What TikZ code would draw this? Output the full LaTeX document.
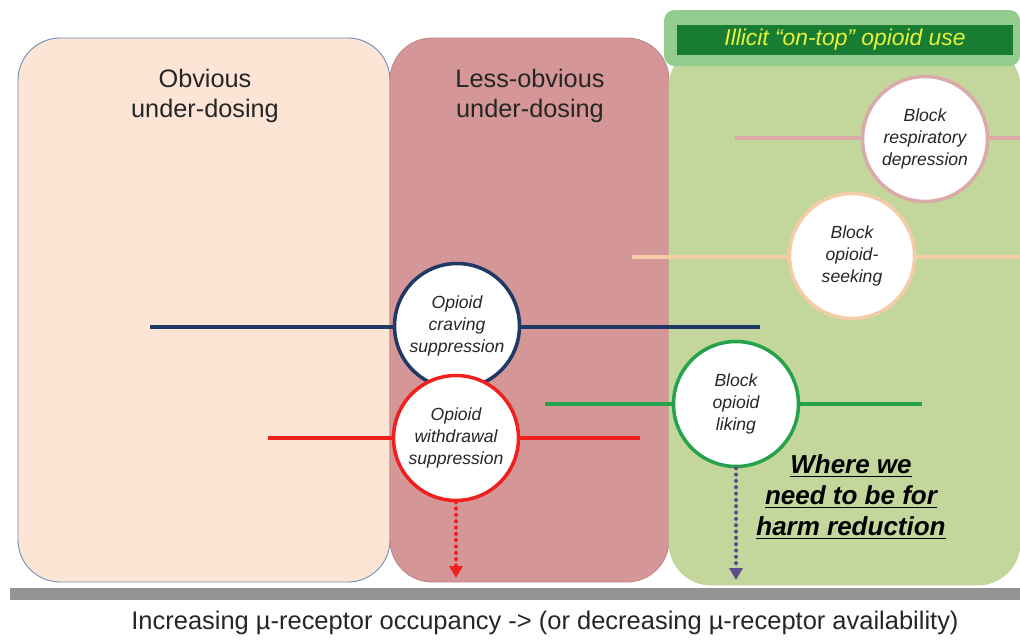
\documentclass[tikz,border=0pt]{standalone}
\usepackage{fontspec}
\setmainfont{Liberation Sans}
\usepackage{tikz}
\usetikzlibrary{arrows.meta, positioning, calc}
\definecolor{peachfill}{HTML}{FCE5D5}
\definecolor{rosefill}{HTML}{D49696}
\definecolor{leaffill}{HTML}{C3D69B}
\definecolor{glowgreen}{HTML}{94CC8E}
\definecolor{bargreen}{HTML}{187D33}
\definecolor{bartext}{HTML}{E8F23C}
\definecolor{navyring}{HTML}{203864}
\definecolor{redring}{HTML}{F0201E}
\definecolor{greenring}{HTML}{26A24C}
\definecolor{pinkring}{HTML}{D9AAA8}
\definecolor{apricotring}{HTML}{F5CCA8}
\definecolor{dusk}{HTML}{5E4B8B}
\definecolor{slateedge}{HTML}{6A8BB8}
\tikzstyle{zone} = [rounded corners=24pt, line width=0.5pt]
\tikzstyle{zonetitle} = [font=\fontsize{14.4}{17.5}\selectfont, align=center, text=black!85]
\tikzstyle{effect} = [
  circle, draw, fill=white, line width=2pt,
  minimum size=2.5cm, inner sep=0pt, align=center,
  font=\fontsize{10}{12.5}\selectfont\itshape, text=black!85
]
\tikzstyle{level} = [line width=1.8pt]
\tikzstyle{drop} = [-{Triangle[length=2.4mm, width=2.6mm]}, line width=2.3pt,
  line cap=round, dash pattern=on 0pt off 3.6pt]

\begin{document}
\begin{tikzpicture}[x=0.02cm, y=-0.02cm]
  \useasboundingbox (0,0) rectangle (1020,639);

  % three zones
  \draw[zone, fill=peachfill, draw=slateedge] (18,38) rectangle (390,582);
  \draw[zone, fill=rosefill, draw=rosefill!90!black] (390,38) rectangle (669,582);
  \draw[zone, fill=leaffill, draw=leaffill] (669,45) rectangle (1020,585);

  % header of the green zone
  \fill[glowgreen, rounded corners=6pt] (664,10) rectangle (1020,66);
  \node[fill=bargreen, minimum width=6.72cm, minimum height=0.6cm, inner sep=0pt,
        text=bartext, font=\fontsize{13}{15}\selectfont\itshape] (illicit) at (845,40)
        {Illicit “on-top” opioid use};

  \node[zonetitle] (obvious) at (205,96) {Obvious\\under-dosing};
  \node[zonetitle] (lessobvious) at (530,96) {Less-obvious\\under-dosing};

  % range lines
  \coordinate (resp-l) at (735,138);
  \coordinate (resp-r) at (1020,138);
  \coordinate (seek-l) at (632,257);
  \coordinate (seek-r) at (1020,257);
  \coordinate (crav-l) at (150,327);
  \coordinate (crav-r) at (760,327);
  \coordinate (like-l) at (545,404);
  \coordinate (like-r) at (922,404);
  \coordinate (with-l) at (268,438);
  \coordinate (with-r) at (640,438);
  \draw[level, draw=pinkring] (resp-l) -- (resp-r);
  \draw[level, draw=apricotring] (seek-l) -- (seek-r);
  \draw[level, draw=navyring] (crav-l) -- (crav-r);
  \draw[level, draw=greenring] (like-l) -- (like-r);
  \draw[level, draw=redring] (with-l) -- (with-r);

  % effect circles
  \node[effect, draw=pinkring] (resp) at (925,139) {Block\\respiratory\\depression};
  \node[effect, draw=apricotring] (seeking) at (852,256) {Block\\opioid-\\seeking};
  \node[effect, draw=navyring] (craving) at (457,326) {Opioid\\craving\\suppression};
  \node[effect, draw=greenring] (liking) at (736,404) {Block\\opioid\\liking};
  \node[effect, draw=redring] (withdrawal) at (456,438) {Opioid\\withdrawal\\suppression};

  \coordinate (redtip) at (456,578);
  \coordinate (dusktip) at (736,580);
  \draw[drop, draw=redring, fill=redring] (withdrawal.south) -- (redtip);
  \draw[drop, draw=dusk, fill=dusk] (liking.south) -- (dusktip);

  \node[font=\fontsize{14.8}{17.8}\selectfont\bfseries\itshape, align=center] (harm) at (851,497)
    {\underline{Where we}\\\underline{need to be for}\\\underline{harm reduction}};

  % axis
  \fill[black!42] (10,588) rectangle (1020,600);
  \node[font=\fontsize{14.5}{16}\selectfont, text=black!85] (axis) at (545,623)
    {Increasing µ-receptor occupancy -> (or decreasing µ-receptor availability)};

\end{tikzpicture}
\end{document}
